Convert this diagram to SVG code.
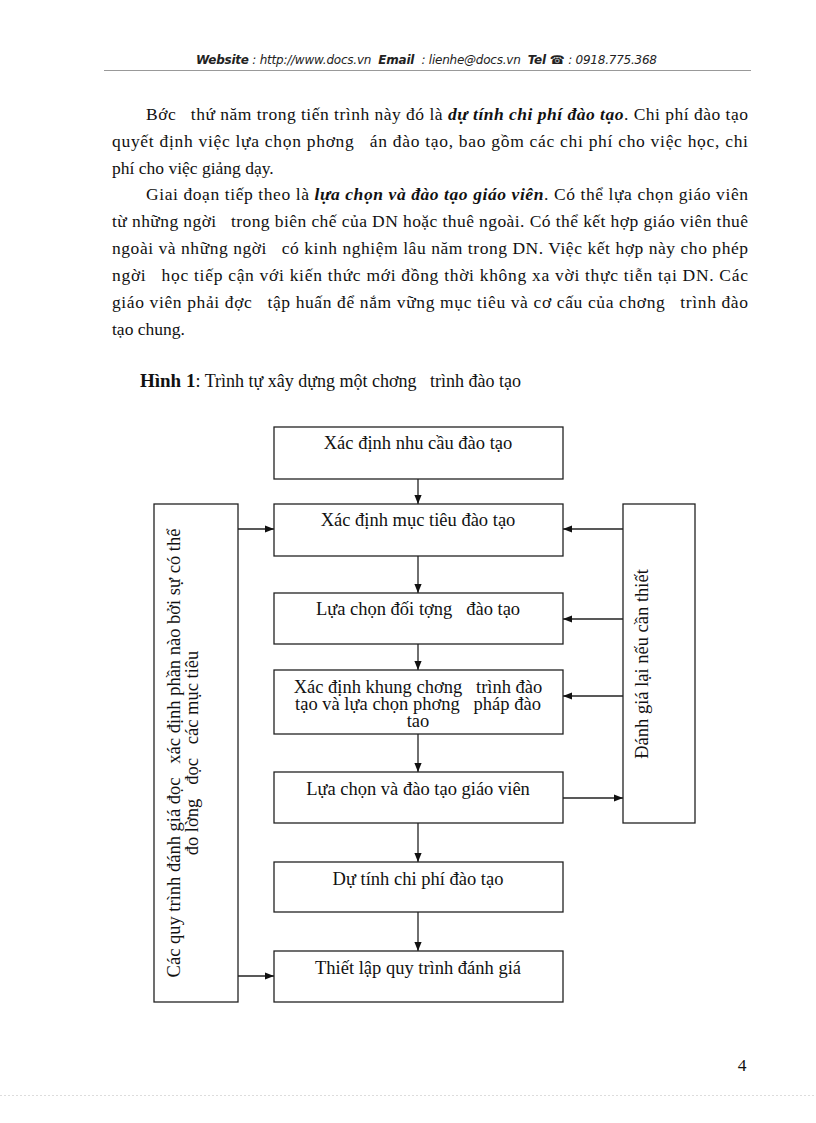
<svg xmlns="http://www.w3.org/2000/svg" width="816" height="1123" viewBox="0 0 816 1123">
<style>
.hd{font-family:"DejaVu Sans","Liberation Sans",sans-serif;font-size:12px;font-style:italic;fill:#222}
.hdb{font-weight:bold}
.body{font-family:"Liberation Serif","Times New Roman",serif;font-size:17.5px;fill:#111}
.bi{font-weight:bold;font-style:italic}
.box{fill:#fff;stroke:#222;stroke-width:1.3}
.lbl{font-family:"Liberation Serif","Times New Roman",serif;font-size:18.5px;fill:#111;text-anchor:middle}
.conn line{stroke:#222;stroke-width:1.3}
</style>
<defs>
<marker id="ah" viewBox="0 0 10 10" refX="10" refY="5" markerWidth="9" markerHeight="9" markerUnits="userSpaceOnUse" orient="auto">
<path d="M0,1 L10,5 L0,9 Z" fill="#111"/>
</marker>
</defs>
<rect width="816" height="1123" fill="#fff"/>
<g id="header">
<text x="196" y="64" class="hd" xml:space="preserve" textLength="461" lengthAdjust="spacing"><tspan class="hdb">Website</tspan> : http://www.docs.vn  <tspan class="hdb">Email</tspan>  : lienhe@docs.vn  <tspan class="hdb">Tel ☎</tspan> : 0918.775.368</text>
<line x1="104" y1="70.5" x2="751" y2="70.5" stroke="#999" stroke-width="1"/>
</g>
<g id="paragraphs" class="body">
<text x="146" y="120" textLength="602" lengthAdjust="spacing" xml:space="preserve">Bớc   thứ năm trong tiến trình này đó là <tspan class="bi">dự tính chi phí đào tạo</tspan>. Chi phí đào tạo</text>
<text x="112" y="147" textLength="636" lengthAdjust="spacing" xml:space="preserve">quyết định việc lựa chọn phơng   án đào tạo, bao gồm các chi phí cho việc học, chi</text>
<text x="112" y="174">phí cho việc giảng dạy.</text>
<text x="146" y="200" textLength="602" lengthAdjust="spacing">Giai đoạn tiếp theo là <tspan class="bi">lựa chọn và đào tạo giáo viên</tspan>. Có thể lựa chọn giáo viên</text>
<text x="112" y="227" textLength="636" lengthAdjust="spacing" xml:space="preserve">từ những ngời   trong biên chế của DN hoặc thuê ngoài. Có thể kết hợp giáo viên thuê</text>
<text x="112" y="254" textLength="636" lengthAdjust="spacing" xml:space="preserve">ngoài và những ngời   có kinh nghiệm lâu năm trong DN. Việc kết hợp này cho phép</text>
<text x="112" y="281" textLength="636" lengthAdjust="spacing" xml:space="preserve">ngời   học tiếp cận với kiến thức mới đồng thời không xa vời thực tiễn tại DN. Các</text>
<text x="112" y="308" textLength="636" lengthAdjust="spacing" xml:space="preserve">giáo viên phải đợc   tập huấn để nắm vững mục tiêu và cơ cấu của chơng   trình đào</text>
<text x="112" y="335">tạo chung.</text>
<text x="140" y="387" xml:space="preserve" font-size="18"><tspan font-weight="bold" font-size="19">Hình 1</tspan>: Trình tự xây dựng một chơng   trình đào tạo</text>
</g>
<g id="connectors" class="conn">
<line x1="418" y1="479" x2="418" y2="504" marker-end="url(#ah)"/>
<line x1="418" y1="556" x2="418" y2="593" marker-end="url(#ah)"/>
<line x1="418" y1="644" x2="418" y2="670" marker-end="url(#ah)"/>
<line x1="418" y1="734" x2="418" y2="772" marker-end="url(#ah)"/>
<line x1="418" y1="823" x2="418" y2="862" marker-end="url(#ah)"/>
<line x1="418" y1="912" x2="418" y2="951" marker-end="url(#ah)"/>
<line x1="238" y1="529" x2="274" y2="529" marker-end="url(#ah)"/>
<line x1="238" y1="976" x2="274" y2="976" marker-end="url(#ah)"/>
<line x1="623" y1="529" x2="563" y2="529" marker-end="url(#ah)"/>
<line x1="623" y1="619" x2="563" y2="619" marker-end="url(#ah)"/>
<line x1="623" y1="696" x2="563" y2="696" marker-end="url(#ah)"/>
<line x1="563" y1="798" x2="623" y2="798" marker-end="url(#ah)"/>
</g>
<g id="n1"><rect class="box" x="274" y="427" width="289" height="52"/><text class="lbl" x="418" y="449">Xác định nhu cầu đào tạo</text></g>
<g id="n2"><rect class="box" x="274" y="504" width="289" height="52"/><text class="lbl" x="418" y="526">Xác định mục tiêu đào tạo</text></g>
<g id="n3"><rect class="box" x="274" y="593" width="289" height="51"/><text class="lbl" x="418" y="615" xml:space="preserve">Lựa chọn đối tợng   đào tạo</text></g>
<g id="n4"><rect class="box" x="274" y="670" width="289" height="64"/>
<text class="lbl" x="418" y="693" xml:space="preserve">Xác định khung chơng   trình đào</text>
<text class="lbl" x="418" y="710" xml:space="preserve">tạo và lựa chọn phơng   pháp đào</text>
<text class="lbl" x="418" y="727">tao</text></g>
<g id="n5"><rect class="box" x="274" y="772" width="289" height="51"/><text class="lbl" x="418" y="795">Lựa chọn và đào tạo giáo viên</text></g>
<g id="n6"><rect class="box" x="274" y="862" width="289" height="50"/><text class="lbl" x="418" y="885">Dự tính chi phí đào tạo</text></g>
<g id="n7"><rect class="box" x="274" y="951" width="289" height="51"/><text class="lbl" x="418" y="974">Thiết lập quy trình đánh giá</text></g>
<g id="left"><rect class="box" x="154" y="504" width="84" height="498"/>
<text class="lbl" transform="translate(180,753) rotate(-90)" xml:space="preserve">Các quy trình đánh giá đọc   xác định phần nào bởi sự có thể</text>
<text class="lbl" transform="translate(198,753) rotate(-90)" xml:space="preserve">đo lờng   đọc   các mục tiêu</text></g>
<g id="right"><rect class="box" x="623" y="504" width="72" height="319"/>
<text class="lbl" transform="translate(648,664) rotate(-90)">Đánh giá lại nếu cần thiết</text></g>
<g id="footer">
<text x="742" y="1071" class="body" text-anchor="middle" font-size="17">4</text>
<line x1="0" y1="1095.5" x2="816" y2="1095.5" stroke="#ddd" stroke-width="1" stroke-dasharray="2,2"/>
</g>
</svg>
